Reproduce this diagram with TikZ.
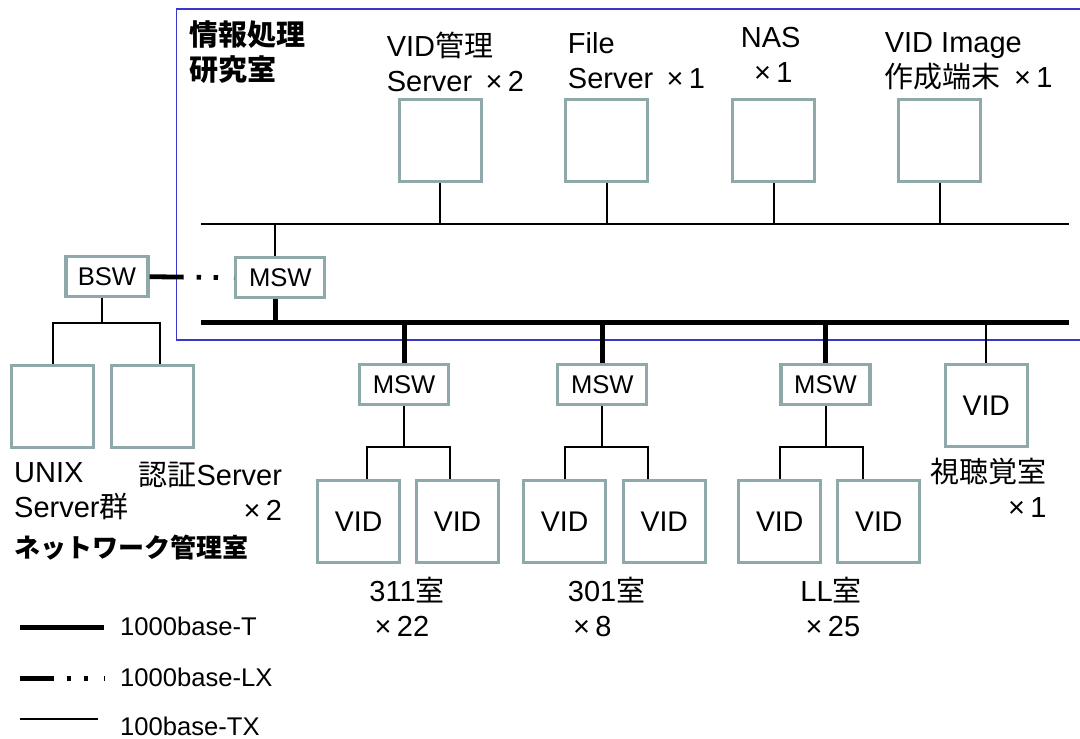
\documentclass[tikz,border=0pt]{standalone}
\usepackage{fontspec}
\setmainfont{Liberation Sans}
\newfontfamily\jp{Noto Sans CJK JP}
\usetikzlibrary{positioning}
\definecolor{boxgray}{RGB}{143,168,170}
\definecolor{roomblue}{RGB}{55,55,200}
\newcommand\tms{\makebox[0.95em]{×}}

\begin{document}
\begin{tikzpicture}[
  x=0.5pt,y=-0.5pt,
  dev/.style={draw=boxgray,line width=1.6pt,fill=white,minimum width=41pt,
              minimum height=41pt,inner sep=0pt,
              font=\fontsize{14.2}{17}\selectfont},
  swbox/.style={dev,minimum width=44.5pt,minimum height=20pt,
                font=\fontsize{12.8}{15}\selectfont},
  lbl/.style={inner sep=0pt,align=left,anchor=north west,
              font=\fontsize{14.5}{17.5}\selectfont},
  room/.style={lbl,font=\fontsize{14.5}{17.5}\selectfont\jp\bfseries},
  legtext/.style={inner sep=0pt,anchor=west,font=\fontsize{12.8}{15}\selectfont},
  tx/.style={line width=1pt},
  gt/.style={line width=2.4pt},
  bus/.style={line width=2.5pt},
  lx/.style={line width=2.4pt,dash pattern=on 17pt off 6.5pt on 2.2pt off 6.3pt on 2.2pt off 8pt},
]
\useasboundingbox (0,0) rectangle (1080,738);

% the lab room
\draw[roomblue,line width=0.7pt] (1085,9) -| (176.7,340) -- (1085,340);
\node[room] (labname) at (188.7,20) {情報処理\\研究室};

% servers in the lab
\node[dev] (srv1) at (440.3,140.8) {};
\node[dev] (srv2) at (606.8,140.8) {};
\node[dev] (srv3) at (773.7,140.8) {};
\node[dev] (srv4) at (939.8,140.8) {};
\node[lbl] (srv1lbl) at (386.4,31.7) {VID{\jp 管理}\\Server \tms2};
\node[lbl] (srv2lbl) at (567.5,31.7) {File\\Server \tms1};
\node[lbl,align=center,anchor=north] (srv3lbl) at (770.7,26.7) {NAS\\\tms1};
\node[lbl] (srv4lbl) at (884.4,31.7) {VID Image\\{\jp 作成端末} \tms1};

% buses
\coordinate (bus0a) at (201.4,224);
\coordinate (bus0b) at (1069.3,224);
\coordinate (bus1a) at (201.4,322.7);
\coordinate (bus1b) at (1069.3,322.7);
\draw[tx] (bus0a) -- (bus0b);
\draw[bus] (bus1a) -- (bus1b);
\foreach \s in {srv1,srv2,srv3,srv4}
  \draw[tx] (\s.south) -- (\s.south |- bus0a);

% main switch and backbone switch
\node[swbox] (msw0) at (280.3,277.7) {MSW};
\node[swbox,minimum width=41pt] (bsw) at (107,276.7) {BSW};
\draw[tx] ([xshift=-2.5pt]msw0.north) -- ([xshift=-2.5pt]msw0.north |- bus0a);
\draw[gt] ([xshift=-2.5pt]msw0.south) -- ([xshift=-2.5pt]msw0.south |- bus1a);
\draw[lx] (bsw.east) -- (msw0.west);

% network management room
\node[dev] (unix) at (52.5,406.2) {};
\node[dev] (auth) at (152.7,406.2) {};
\draw[tx] ([xshift=-2.3pt]bsw.south) -- ([xshift=-2.3pt]bsw.south |- bus1a);
\draw[tx] (unix.north) |- ([xshift=3.5pt]auth.north |- bus1a)
      -- ([xshift=3.5pt]auth.north);
\node[lbl] (unixlbl) at (13.8,461.7) {UNIX\\Server{\jp 群}};
\node[lbl,align=right,anchor=north east] (authlbl) at (282.4,461.7)
     {{\jp 認証}Server\\\tms2};
\node[room,font=\fontsize{13}{16}\selectfont\jp\bfseries] (netroom)
     at (13.8,535) {ネットワーク管理室};

% class rooms
\node[swbox] (msw1) at (404.1,384.7) {MSW};
\node[swbox] (msw2) at (602.3,384.7) {MSW};
\node[swbox] (msw3) at (825.5,384.7) {MSW};
\node[dev] (vid1a) at (358.6,521.3) {VID};
\node[dev] (vid1b) at (457.5,521.3) {VID};
\node[dev] (vid2a) at (564.6,521.3) {VID};
\node[dev] (vid2b) at (664.3,521.3) {VID};
\node[dev] (vid3a) at (779.7,521.3) {VID};
\node[dev] (vid3b) at (878.8,521.3) {VID};
\node[dev] (vid4) at (986.3,405.3) {VID};

\coordinate (br) at (0,446.7);
\foreach \m/\a/\b/\da/\db in {msw1/vid1a/vid1b/4pt/-3.7pt,
                              msw2/vid2a/vid2b/0pt/-8pt,
                              msw3/vid3a/vid3b/0pt/-8pt}{
  \draw[gt] (\m.north |- bus1a) -- (\m.north);
  \draw[tx] (\m.south) -- (\m.south |- br);
  \draw[tx] ([xshift=\da]\a.north) |- ([xshift=\db]\b.north |- br)
        -- ([xshift=\db]\b.north);
}
\draw[tx] (vid4.north |- bus1a) -- (vid4.north);

\node[lbl] (room1) at (369,576.7) {311{\jp 室}\\\tms22};
\node[lbl] (room2) at (567.5,576.7) {301{\jp 室}\\\tms8};
\node[lbl] (room3) at (800,576.7) {LL{\jp 室}\\\tms25};
\node[lbl,align=right,anchor=north east] (room4) at (1046.9,458)
     {{\jp 視聴覚室}\\\tms1};

% legend
\coordinate (leg1a) at (19.6,627.3);
\coordinate (leg1b) at (104.3,627.3);
\coordinate (leg2a) at (19.6,678.3);
\coordinate (leg2b) at (104.3,678.3);
\coordinate (leg3a) at (19.6,719);
\coordinate (leg3b) at (97.5,719);
\draw[gt] (leg1a) -- (leg1b);
\draw[lx] (leg2a) -- (leg2b);
\draw[tx] (leg3a) -- (leg3b);
\node[legtext] (leg1) at (119.8,626) {1000base-T};
\node[legtext] (leg2) at (119.8,677.5) {1000base-LX};
\node[legtext] (leg3) at (119.8,726) {100base-TX};

\end{tikzpicture}
\end{document}
